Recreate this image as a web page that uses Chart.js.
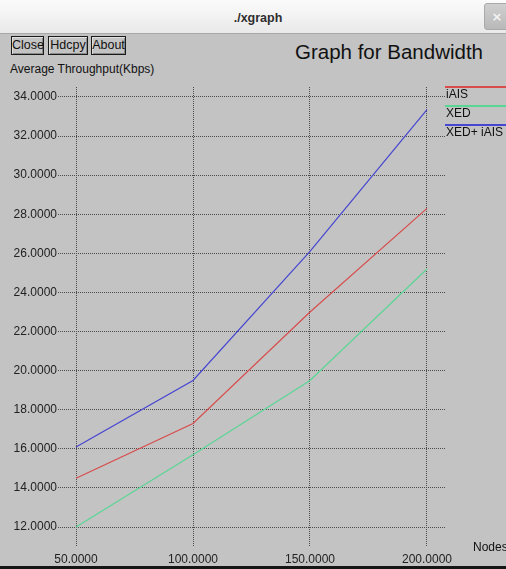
<!DOCTYPE html>
<html>
<head>
<meta charset="utf-8">
<script src="https://cdn.jsdelivr.net/npm/chart.js@4/dist/chart.umd.min.js"></script>
<style>
  html, body { margin: 0; padding: 0; }
  body { width: 506px; height: 569px; position: relative; overflow: hidden; background: #c3c3c3;
         font-family: "Liberation Sans", Arial, sans-serif; }
  #titlebar { position: absolute; left: 0; top: 0; width: 506px; height: 33px;
              background: linear-gradient(#fbfbfb, #e9e9e9); border-bottom: 1px solid #a8a8a8; }
  #wintitle { position: absolute; left: 0; width: 516px; top: 11px; text-align: center;
              font: bold 12.5px "Liberation Sans", Arial, sans-serif; color: #2e2e2e; }
  #winclose { position: absolute; left: 484px; top: 3px; width: 26px; height: 27px; border-radius: 3px;
              background: linear-gradient(#cfcfcf, #b9b9b9); border: 1px solid #a9a9a9;
              color: #f4f4f4; font: bold 13px "DejaVu Sans", sans-serif; text-align: center; line-height: 25px; box-sizing: border-box; }
  .btn { position: absolute; top: 36px; height: 19px; box-sizing: border-box; border: 1px solid #1a1a1a;
         box-shadow: inset 1px 1px 0 #e0e0e0, inset -1px -1px 0 #8a8a8a;
         font-size: 12.5px; line-height: 17px; text-align: center; color: #111; }
  #plotTitle { position: absolute; left: 295px; top: 40px; font-size: 20.5px; color: #111; white-space: nowrap; }
  #yTitle { position: absolute; left: 10px; top: 62px; font-size: 12px; color: #111; white-space: nowrap; }
  #xTitle { position: absolute; left: 473px; top: 540px; font-size: 12px; color: #111; white-space: nowrap; }
  #chartBox { position: absolute; left: 0; top: 0; width: 506px; height: 569px; }
  .legLine { position: absolute; left: 445px; width: 61px; height: 2px; }
  .legText { position: absolute; left: 446px; font-size: 12px; color: #111; white-space: nowrap; }
  #bottomEdge { position: absolute; left: 0; top: 566px; width: 506px; height: 3px; background: #151515; }
</style>
</head>
<body>
<div id="titlebar"><div id="wintitle">./xgraph</div><div id="winclose">×</div></div>
<div class="btn" style="left:11px;width:33px;">Close</div>
<div class="btn" style="left:48px;width:40px;">Hdcpy</div>
<div class="btn" style="left:91px;width:35px;">About</div>
<div id="plotTitle">Graph for Bandwidth</div>
<div id="yTitle">Average Throughput(Kbps)</div>
<div id="chartBox"><canvas id="c" width="506" height="569"></canvas></div>
<div id="xTitle">Nodes</div>
<div id="legend"></div>
<div id="bottomEdge"></div>
<script>
// Number of nodes on the x axis
const nodes = [50, 100, 150, 200];
// Average throughput (Kbps) for each scheme
const iAIS = [14.5, 17.3, 23.0, 28.3];
const XED = [12.0, 15.7, 19.5, 25.2];
const XED_iAIS = [16.1, 19.5, 26.1, 33.35];
// Tick positions
const xTicks = [50, 100, 150, 200];
const yTicks = [12, 14, 16, 18, 20, 22, 24, 26, 28, 30, 32, 34];

const seriesNames = ["iAIS", "XED", "XED+ iAIS"];
const seriesColors = ["#d84c4c", "#5ad694", "#4646d2"];
const seriesValues = [iAIS, XED, XED_iAIS];

const datasets = seriesValues.map((vals, i) => ({
  label: seriesNames[i],
  data: nodes.map((n, j) => ({ x: n, y: vals[j] })),
  borderColor: seriesColors[i],
  borderWidth: 1.2,
  pointRadius: 0,
  tension: 0,
  fill: false
}));

// xgraph-style legend: coloured line with the name underneath
const legend = document.getElementById("legend");
const legendTop = [86, 105, 124];
seriesNames.forEach((name, i) => {
  const l = document.createElement("div");
  l.className = "legLine";
  l.style.top = legendTop[i] + "px";
  l.style.background = seriesColors[i];
  legend.appendChild(l);
  const t = document.createElement("div");
  t.className = "legText";
  t.style.top = (legendTop[i] + 1) + "px";
  t.textContent = name;
  legend.appendChild(t);
});

const gridStyle = { color: "#4c4c4c", lineWidth: 1, drawTicks: false };
const tickFont = { family: "Liberation Sans", size: 12 };

new Chart(document.getElementById("c"), {
  type: "line",
  data: { datasets },
  options: {
    responsive: false,
    animation: false,
    layout: { padding: { top: 87, right: 61, left: 0, bottom: 0 } },
    plugins: { legend: { display: false }, tooltip: { enabled: false } },
    scales: {
      x: {
        type: "linear",
        min: 42.3,
        max: 207.7,
        grid: gridStyle,
        border: { display: false, dash: [1, 1] },
        afterBuildTicks: s => { s.ticks = xTicks.map(v => ({ value: v })); },
        afterFit: s => { s.height = 22; },
        ticks: { color: "#222", font: tickFont, padding: 5, maxRotation: 0, autoSkip: false,
                 callback: v => Number(v).toFixed(4) }
      },
      y: {
        type: "linear",
        min: 10.98,
        max: 34.51,
        grid: gridStyle,
        border: { display: false, dash: [1, 1] },
        afterBuildTicks: s => { s.ticks = yTicks.map(v => ({ value: v })); },
        afterFit: s => { s.width = 58; },
        ticks: { color: "#222", font: tickFont, padding: 1, autoSkip: false,
                 callback: v => Number(v).toFixed(4) }
      }
    }
  }
});
</script>
</body>
</html>
